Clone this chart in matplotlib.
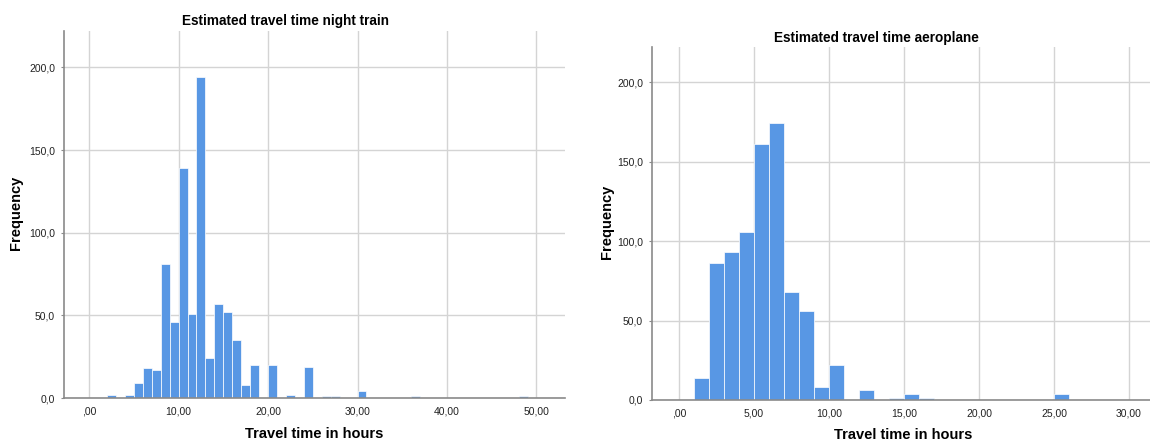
import matplotlib.pyplot as plt

# night train histogram: bin start (hours) and counts, bin width 1 hour
train_bins = [2, 4, 5, 6, 7, 8, 9, 10, 11, 12, 13, 14, 15, 16, 17, 18,
              20, 22, 24, 26, 27, 30, 36, 48]
train_counts = [2, 2, 9, 18, 17, 81, 46, 139, 51, 194, 24, 57, 52, 35, 8, 20,
                20, 2, 19, 1, 1, 4, 1, 1]

# aeroplane histogram
plane_bins = [1, 2, 3, 4, 5, 6, 7, 8, 9, 10, 12, 14, 15, 16, 25]
plane_counts = [14, 86, 93, 106, 161, 174, 68, 56, 8, 22, 6, 1, 4, 1, 4]

train_xticks = [0, 10, 20, 30, 40, 50]
plane_xticks = [0, 5, 10, 15, 20, 25, 30]
yticks = [0, 50, 100, 150, 200]

plt.rcParams['font.family'] = ['Liberation Sans', 'DejaVu Sans']

bar_color = '#5897E4'
grid_color = '#D4D4D4'
axis_color = '#8A8A8A'


def comma(v, dec):
    s = f'{v:.{dec}f}'.replace('.', ',')
    if s.startswith('0,') and dec == 2:
        s = s[1:]
    return s


def style_axes(ax, xticks, xlim):
    ax.set_xlim(*xlim)
    ax.set_ylim(0, 222)
    ax.set_xticks(xticks)
    ax.set_xticklabels([comma(t, 2) for t in xticks])
    ax.set_yticks(yticks)
    ax.set_yticklabels([comma(t, 1) for t in yticks])
    ax.grid(True, color=grid_color, linewidth=1.0)
    ax.set_axisbelow(True)
    for s in ['top', 'right']:
        ax.spines[s].set_visible(False)
    for s in ['left', 'bottom']:
        ax.spines[s].set_color(axis_color)
        ax.spines[s].set_linewidth(1.2)
    ax.tick_params(axis='x', length=0, labelsize=7.5, colors='#222222', pad=6)
    ax.tick_params(axis='y', length=2.5, labelsize=7.5, colors='#222222',
                   pad=4, color=axis_color)


fig = plt.figure(figsize=(11.5, 4.41), dpi=100)

ax1 = fig.add_axes([0.0557, 0.0975, 0.4357, 0.832])
ax1.bar(train_bins, train_counts, width=1, align='edge', color=bar_color,
        edgecolor='white', linewidth=0.5)
style_axes(ax1, train_xticks, (-2.8, 53.2))

ax2 = fig.add_axes([0.567, 0.093, 0.433, 0.800])
ax2.bar(plane_bins, plane_counts, width=1, align='edge', color=bar_color,
        edgecolor='white', linewidth=0.5)
style_axes(ax2, plane_xticks, (-1.8, 31.4))

# titles and labels
fig.text(285 / 1150, 1 - 21 / 441, 'Estimated travel time night train',
         ha='center', va='center', fontsize=9.8, fontweight='bold')
fig.text(876 / 1150, 1 - 38 / 441, 'Estimated travel time aeroplane',
         ha='center', va='center', fontsize=9.8, fontweight='bold')
fig.text(314 / 1150, 1 - 434 / 441, 'Travel time in hours',
         ha='center', va='center', fontsize=10.5, fontweight='bold')
fig.text(903 / 1150, 1 - 435 / 441, 'Travel time in hours',
         ha='center', va='center', fontsize=10.5, fontweight='bold')
fig.text(16 / 1150, 1 - 213 / 441, 'Frequency', rotation=90,
         ha='center', va='center', fontsize=10.5, fontweight='bold')
fig.text(607 / 1150, 1 - 222 / 441, 'Frequency', rotation=90,
         ha='center', va='center', fontsize=10.5, fontweight='bold')

fig.savefig('out.png', dpi=100)
